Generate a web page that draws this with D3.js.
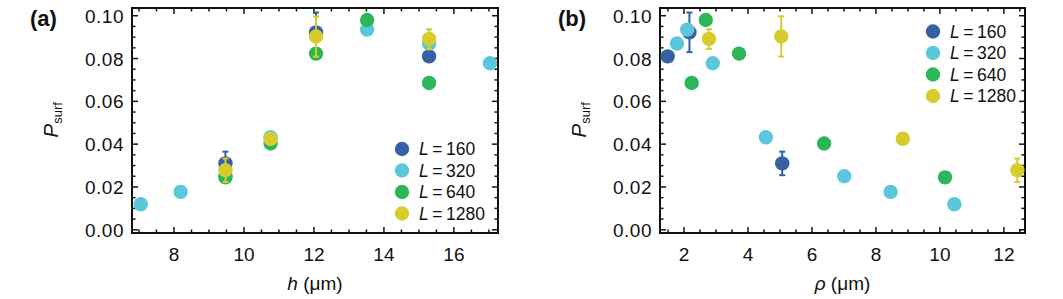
<!DOCTYPE html>
<html>
<head>
<meta charset="utf-8">
<script src="https://cdn.jsdelivr.net/npm/d3@7"></script>
<style>
  body { margin: 0; background: #fff; }
  svg text { font-family: "Liberation Sans", Arial, sans-serif; fill: #111; }
</style>
</head>
<body>
<div id="chart"></div>
<script>
// Series (one per system size L)
const seriesNames = ['L160', 'L320', 'L640', 'L1280'];
const legendValues = ['160', '320', '640', '1280'];
const seriesColors = ['#3561a5', '#5bc7da', '#2db55a', '#d6cc2d'];

// Height h (um) of each point
const hL160 = [9.47, 12.06, 15.29];
const hL320 = [7.05, 8.19, 9.47, 10.76, 13.52, 15.29, 17.03];
const hL640 = [9.47, 10.76, 12.06, 13.52, 15.29];
const hL1280 = [9.47, 10.76, 12.06, 15.29];

// Density rho (um) of each point
const rhoL160 = [5.07, 2.17, 1.49];
const rhoL320 = [10.45, 8.46, 7.01, 4.56, 2.10, 1.78, 2.90];
const rhoL640 = [10.16, 6.38, 3.72, 2.68, 2.24];
const rhoL1280 = [12.42, 8.84, 5.04, 2.78];

// P_surf values
const pL160 = [0.031, 0.0922, 0.081];
const pL320 = [0.0119, 0.0177, 0.0250, 0.0432, 0.0935, 0.0870, 0.0778];
const pL640 = [0.0245, 0.0403, 0.0823, 0.0980, 0.0686];
const pL1280 = [0.0278, 0.0425, 0.0903, 0.0892];

// Error bars (low, high); null where none is visible
const loL160 = [0.0255, 0.0830, null];
const hiL160 = [0.0365, 0.1015, null];
const loL1280 = [0.0223, null, 0.0809, 0.0845];
const hiL1280 = [0.0333, null, 0.0997, 0.0937];

const hData = [hL160, hL320, hL640, hL1280];
const rhoData = [rhoL160, rhoL320, rhoL640, rhoL1280];
const pData = [pL160, pL320, pL640, pL1280];
const loData = [loL160, null, null, loL1280];
const hiData = [hiL160, null, null, hiL1280];

const yTicks = [0.00, 0.02, 0.04, 0.06, 0.08, 0.10];

const svg = d3.select('#chart').append('svg')
  .attr('width', 1063)
  .attr('height', 299);

function drawPanel(opts) {
  const x = d3.scaleLinear().domain(opts.xDomain).range([opts.left, opts.right]);
  const y = d3.scaleLinear().domain([-0.0015, 0.1036]).range([233, 8]);
  const g = svg.append('g');

  // minor ticks, all sides, pointing inward
  const xMinor = d3.range(Math.ceil(opts.xDomain[0] * 2) / 2, opts.xDomain[1], 0.5);
  const yMinor = d3.range(0, 0.1036, 0.005);
  const xMajor = opts.xTicks;

  const tickG = g.append('g').attr('stroke', '#111').attr('stroke-width', 1.5);
  xMinor.forEach(v => {
    const major = xMajor.some(t => Math.abs(t - v) < 1e-6);
    const len = major ? 6 : 3.5;
    tickG.append('line').attr('x1', x(v)).attr('x2', x(v)).attr('y1', 233).attr('y2', 233 - len);
    tickG.append('line').attr('x1', x(v)).attr('x2', x(v)).attr('y1', 8).attr('y2', 8 + len);
  });
  yMinor.forEach(v => {
    const major = yTicks.some(t => Math.abs(t - v) < 1e-6);
    const len = major ? 6 : 3.5;
    tickG.append('line').attr('y1', y(v)).attr('y2', y(v)).attr('x1', opts.left).attr('x2', opts.left + len);
    tickG.append('line').attr('y1', y(v)).attr('y2', y(v)).attr('x1', opts.right).attr('x2', opts.right - len);
  });

  // frame
  g.append('rect')
    .attr('x', opts.left).attr('y', 8)
    .attr('width', opts.right - opts.left).attr('height', 225)
    .attr('fill', 'none').attr('stroke', '#111').attr('stroke-width', 2);

  // tick labels
  g.selectAll('.xl').data(xMajor).enter().append('text')
    .attr('x', d => x(d)).attr('y', 261)
    .attr('text-anchor', 'middle').attr('font-size', 19)
    .text(d => d);
  g.selectAll('.yl').data(yTicks).enter().append('text')
    .attr('x', opts.left - 8).attr('y', d => y(d) + 7)
    .attr('text-anchor', 'end').attr('font-size', 19).attr('letter-spacing', 0.5)
    .text(d => d3.format('.2f')(d));

  // axis titles
  const xt = g.append('text')
    .attr('x', (opts.left + opts.right) / 2).attr('y', 290)
    .attr('text-anchor', 'middle').attr('font-size', 19);
  xt.append('tspan').attr('font-style', 'italic').text(opts.xVar);
  xt.append('tspan').text(' (\u03bcm)');

  const yt = g.append('text')
    .attr('transform', `translate(${opts.left - 74},120) rotate(-90)`)
    .attr('text-anchor', 'middle').attr('font-size', 21);
  yt.append('tspan').attr('font-style', 'italic').text('P');
  yt.append('tspan').attr('font-size', 13).attr('dy', 4).text('surf');

  // panel label
  g.append('text')
    .attr('x', opts.left - 102).attr('y', 26)
    .attr('font-size', 22).attr('font-weight', 'bold')
    .text(opts.label);

  // data: error bars then markers, series by series
  seriesNames.forEach((name, s) => {
    const xs = opts.xData[s];
    const ps = pData[s];
    const col = seriesColors[s];
    if (loData[s]) {
      xs.forEach((xv, i) => {
        if (loData[s][i] == null) return;
        const eg = g.append('g').attr('stroke', col).attr('stroke-width', 2);
        eg.append('line').attr('x1', x(xv)).attr('x2', x(xv))
          .attr('y1', y(loData[s][i])).attr('y2', y(hiData[s][i]));
        [loData[s][i], hiData[s][i]].forEach(v => {
          eg.append('line').attr('x1', x(xv) - 3).attr('x2', x(xv) + 3)
            .attr('y1', y(v)).attr('y2', y(v));
        });
      });
    }
    g.selectAll('.pt' + name).data(xs).enter().append('circle')
      .attr('cx', d => x(d))
      .attr('cy', (d, i) => y(ps[i]))
      .attr('r', 7.2)
      .attr('fill', col);
  });

  // legend
  seriesNames.forEach((name, s) => {
    const ly = opts.legendY + s * 21.5;
    g.append('circle').attr('cx', opts.legendX).attr('cy', ly).attr('r', 7.2).attr('fill', seriesColors[s]);
    const t = g.append('text').attr('x', opts.legendX + 17).attr('y', ly + 6).attr('font-size', 17.5);
    t.append('tspan').attr('font-style', 'italic').text('L');
    t.append('tspan').text('\u2009=\u2009' + legendValues[s]);
  });
}

drawPanel({
  label: '(a)', left: 132, right: 498, xDomain: [6.8, 17.26],
  xTicks: [8, 10, 12, 14, 16], xVar: 'h', xData: hData,
  legendX: 402, legendY: 149
});

drawPanel({
  label: '(b)', left: 660, right: 1025, xDomain: [1.25, 12.66],
  xTicks: [2, 4, 6, 8, 10, 12], xVar: '\u03c1', xData: rhoData,
  legendX: 933, legendY: 31.5
});
</script>
</body>
</html>
